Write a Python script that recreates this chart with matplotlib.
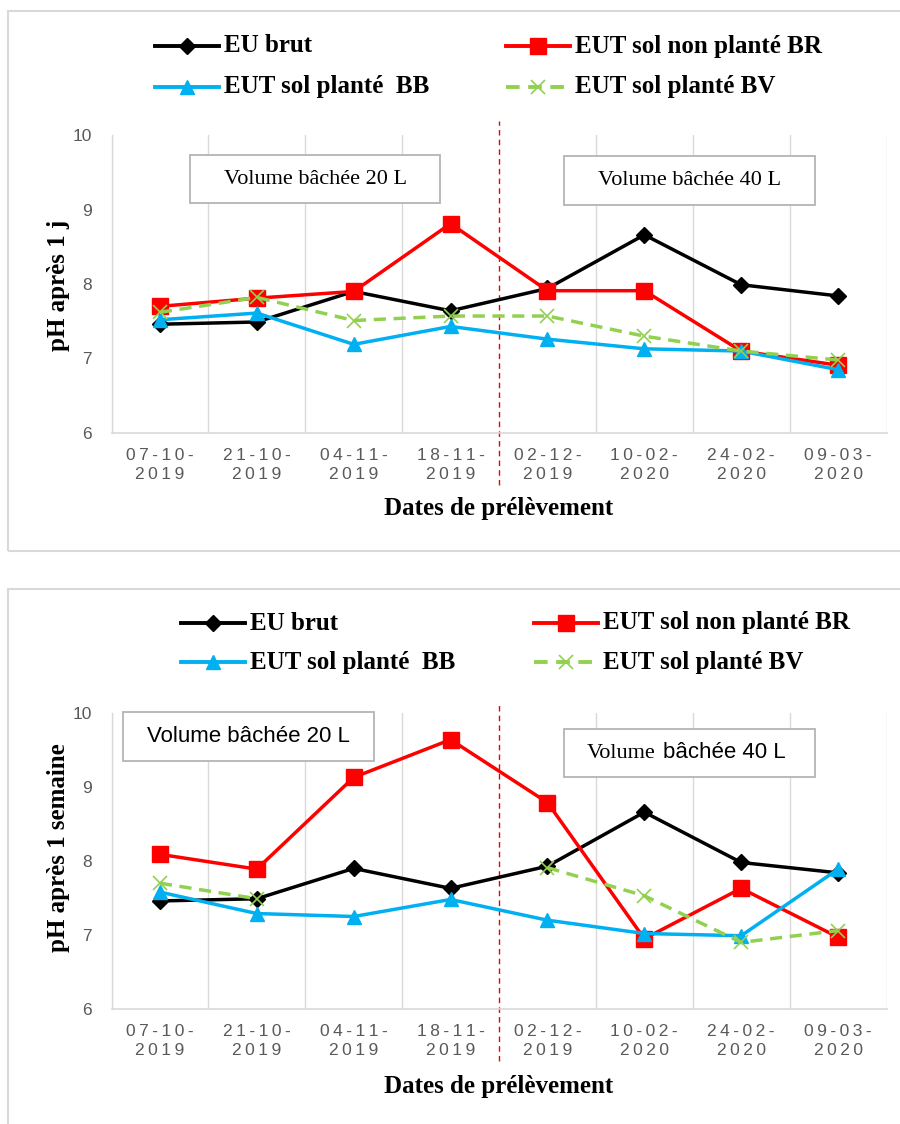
import matplotlib
matplotlib.use("Agg")
import matplotlib.pyplot as plt
from matplotlib.patches import Rectangle
from matplotlib.lines import Line2D

# ---------------- data ----------------
dates = ["07-10-\n2019", "21-10-\n2019", "04-11-\n2019", "18-11-\n2019",
         "02-12-\n2019", "10-02-\n2020", "24-02-\n2020", "09-03-\n2020"]

series_names = ["EU brut", "EUT sol non planté BR", "EUT sol planté  BB", "EUT sol planté BV"]

# pH après 1 jour
eu_brut_1j = [7.46, 7.49, 7.90, 7.64, 7.94, 8.66, 7.99, 7.84]
br_1j = [7.70, 7.81, 7.90, 8.81, 7.91, 7.91, 7.10, 6.91]
bb_1j = [7.52, 7.61, 7.19, 7.43, 7.26, 7.13, 7.10, 6.85]
bv_1j = [7.62, 7.82, 7.51, 7.57, 7.57, 7.30, 7.10, 6.98]

# pH après 1 semaine (BV not visible on 04-11 and 18-11)
nan = float("nan")
eu_brut_1s = [7.46, 7.49, 7.90, 7.63, 7.93, 8.66, 7.98, 7.84]
br_1s = [8.09, 7.89, 9.13, 9.64, 8.79, 6.95, 7.63, 6.97]
bb_1s = [7.58, 7.29, 7.25, 7.48, 7.20, 7.02, 6.99, 7.89]
bv_1s = [7.70, 7.49, nan, nan, 7.91, 7.53, 6.90, 7.06]

y_ticks = [6, 7, 8, 9, 10]

# ---------------- style ----------------
W, H = 900, 1124
DPI = 100
SERIF = ["Liberation Serif", "DejaVu Serif"]
SANS = ["Liberation Sans", "DejaVu Sans"]
TICKC = "#595959"
GRIDC = "#d9d9d9"

styles = [
    dict(color="#000000", marker="D", ms=8.5, lw=2.5, ls="-", mew=1),
    dict(color="#ff0000", marker="s", ms=11, lw=2.5, ls="-", mew=1),
    dict(color="#00b0f0", marker="^", ms=10.5, lw=2.5, ls="-", mew=1),
    dict(color="#92d050", marker="x", ms=9.5, lw=2.5, ls=(0, (3.5, 2.2)), mew=1.2),
]

fig = plt.figure(figsize=(W / DPI, H / DPI), dpi=DPI)


def fx(px):
    return px / W


def fy(py):
    return 1 - py / H


def spaced(s):
    return "\n".join("\u2009".join(list(line)) for line in s.split("\n"))


def make_axes(top_px, bot_px, data, ylabel, ylabel_y, xlabel_y, boxes, redline):
    left_px, right_px = 111.5, 886.5
    ax = fig.add_axes([fx(left_px), fy(bot_px), fx(right_px - left_px), (bot_px - top_px) / H])
    x = list(range(len(dates)))
    for vals, st in zip(data, styles):
        ax.plot(x, vals, color=st["color"], marker=st["marker"], ms=st["ms"], lw=st["lw"],
                ls=st["ls"], mew=st["mew"], zorder=3)
    ax.set_xlim(-0.5, len(dates) - 0.5)
    ax.set_ylim(6, 10)
    ax.set_yticks(y_ticks)
    ax.set_yticklabels([str(t) for t in y_ticks], fontsize=12.5, color=TICKC, family=SANS)
    ax.set_xticks(x)
    ax.set_xticklabels([spaced(d) for d in dates], fontsize=12.5, color=TICKC,
                       family=SANS, linespacing=1.3)
    ax.tick_params(axis="both", length=0)
    ax.tick_params(axis="y", pad=14)
    ax.tick_params(axis="x", pad=11)
    for xv in [i + 0.5 for i in range(-1, len(dates))]:
        if abs(xv - 3.5) < 1e-9:
            continue
        ax.axvline(xv, color=GRIDC, lw=1, zorder=1)
    for s in ["top", "right"]:
        ax.spines[s].set_visible(False)
    ax.spines["left"].set_color(GRIDC)
    ax.spines["bottom"].set_color(GRIDC)
    ax.spines["left"].set_linewidth(1)
    ax.spines["bottom"].set_linewidth(1.2)
    # red dashed separator
    ymin, ymax = redline
    ax.axvline(3.5, ymin=ymin, ymax=ymax, color="#ee0000", lw=1,
               ls=(0, (4, 3)), clip_on=False, zorder=2)
    # text boxes
    sx = right_px - left_px
    sy = bot_px - top_px
    for (x0, x1, y0, y1, parts) in boxes:
        ax0 = (x0 - left_px) / sx
        ax1 = (x1 - left_px) / sx
        ay0 = (bot_px - y1) / sy
        ay1 = (bot_px - y0) / sy
        ax.add_patch(Rectangle((ax0, ay0), ax1 - ax0, ay1 - ay0, transform=ax.transAxes,
                               facecolor="white", edgecolor="#b4b4b4", lw=1.3,
                               clip_on=False, zorder=4))
        for (tx, txt, fam, ha) in parts:
            xpos = (x0 + x1) / 2 if tx is None else tx
            ax.text((xpos - left_px) / sx, (ay0 + ay1) / 2, txt, transform=ax.transAxes,
                    ha=ha, va="center", fontsize=16, family=fam, color="#000000",
                    zorder=5)
    fig.text(fx(59), fy(ylabel_y), ylabel, rotation=90, ha="center", va="center",
             fontsize=18, fontweight="bold", family=SERIF)
    fig.text(fx(499), fy(xlabel_y), "Dates de prélèvement", ha="center", va="center",
             fontsize=18, fontweight="bold", family=SERIF)
    return ax


def legend(rows_y, col_x):
    k = 0
    for ry in rows_y:
        for cx in col_x:
            st = styles[k]
            x0, x1 = cx, cx + 64
            ln = Line2D([fx(x0), fx((x0 + x1) / 2), fx(x1)], [fy(ry)] * 3,
                        transform=fig.transFigure, color=st["color"], lw=st["lw"] + 0.3,
                        ls=st["ls"], marker=st["marker"], ms=st["ms"], mew=st["mew"],
                        markevery=[1])
            fig.add_artist(ln)
            fig.text(fx(x1 + 5), fy(ry), series_names[k], ha="left", va="center",
                     fontsize=18, fontweight="bold", family=SERIF)
            k += 1


# outer frames
fig.add_artist(Rectangle((fx(8), fy(551)), 1.1, (551 - 11) / H, transform=fig.transFigure,
                         facecolor="none", edgecolor="#d9d9d9", lw=1.5))
fig.add_artist(Rectangle((fx(8), -0.1), 1.1, 0.1 + fy(589), transform=fig.transFigure,
                         facecolor="none", edgecolor="#d9d9d9", lw=1.5))

# top chart
make_axes(135, 433, [eu_brut_1j, br_1j, bb_1j, bv_1j], "pH après 1 j", 285, 508,
          [(190, 440, 155, 203, [(None, "Volume bâchée 20 L", SERIF, "center")]),
           (564, 815, 156, 205, [(None, "Volume bâchée 40 L", SERIF, "center")])],
          (-(485 - 433) / 298, 1 + (135 - 121) / 298))
legend([46, 87], [155, 506])

# bottom chart
make_axes(713, 1009, [eu_brut_1s, br_1s, bb_1s, bv_1s], "pH après 1 semaine", 848, 1086,
          [(123, 374, 712, 761, [(None, "Volume bâchée 20 L", SANS, "center")]),
           (564, 815, 729, 777, [(587, "Volume", SERIF, "left"),
                                 (663, "bâchée 40 L", SANS, "left")])],
          (-(1061 - 1009) / 296, 1 + (713 - 703) / 296))
legend([623, 662], [181, 534])

fig.savefig("out.png", dpi=DPI)
